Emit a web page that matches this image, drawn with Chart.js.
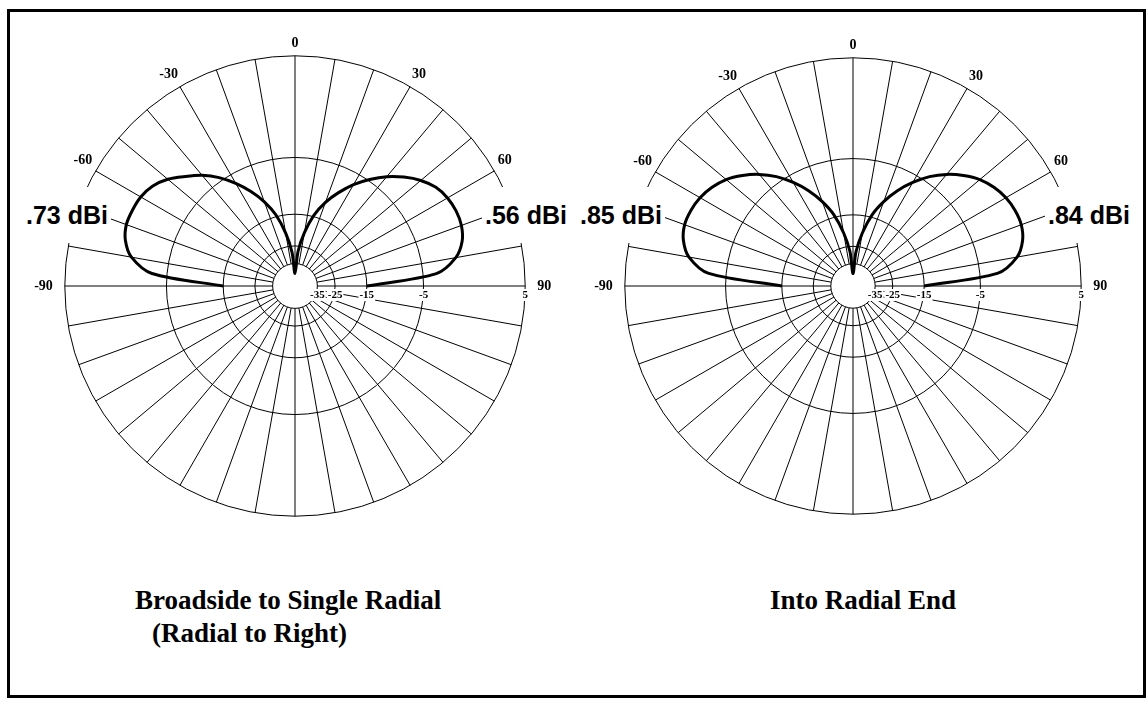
<!DOCTYPE html>
<html>
<head>
<meta charset="utf-8">
<script src="https://cdn.jsdelivr.net/npm/chart.js@4/dist/chart.umd.min.js"></script>
<style>
  body { margin: 0; background: #fff; }
  #page { position: relative; width: 1147px; height: 704px; overflow: hidden; background: #fff; }
  #frame { position: absolute; left: 7px; top: 9px; width: 1139px; height: 689px; border: 3px solid #000; box-sizing: border-box; }
  canvas { position: absolute; }
  .gain { position: absolute; font: bold 25px "Liberation Sans", Arial, sans-serif; line-height: 28px; background: #fff; padding: 14px 3px; color: #000; z-index: 5; }
  .title { position: absolute; font: bold 27px "Liberation Serif", "Times New Roman", serif; color: #000; white-space: nowrap; line-height: 32px; }
</style>
</head>
<body>
<div id="page">
  <div id="frame"></div>
  <canvas id="broadside" width="580" height="502" style="left:5px; top:35px;"></canvas>
  <canvas id="radialEnd" width="580" height="498" style="left:563px; top:37px;"></canvas>

  <div class="gain" style="right:1036px; top:187px;">.73 dBi</div>
  <div class="gain" style="left:482px; top:187px;">.56 dBi</div>
  <div class="gain" style="right:482px; top:187px;">.85 dBi</div>
  <div class="gain" style="left:1045px; top:187px;">.84 dBi</div>

  <div class="title" style="left:135px; top:584px;">Broadside to Single Radial</div>
  <div class="title" style="left:152px; top:617px;">(Radial to Right)</div>
  <div class="title" style="left:770px; top:584px;">Into Radial End</div>
</div>

<script>
// elevation angle from zenith (deg), negative = left side
const elevAngles = [-90, -85, -80, -75, -70, -65, -60, -55, -50, -45, -40, -35, -30, -25, -20, -15, -10, -5,
                    0, 5, 10, 15, 20, 25, 30, 35, 40, 45, 50, 55, 60, 65, 70, 75, 80, 85, 90];

// gain in dBi
const broadsideDb = [-15, -3.1, -0.6, 0.35, 0.73, 0.72, 0.6, 0.2, -0.6, -1.8, -3.0, -4.5, -6.4, -8.6, -11.2, -14.6, -20, -28,
                     -45, -27.5, -19.8, -14.6, -11.3, -8.8, -6.6, -4.8, -3.2, -1.9, -0.8, 0.0, 0.4, 0.56, 0.5, 0.1, -0.9, -3.3, -15];
const radialEndDb = [-15, -2.8, -0.4, 0.5, 0.85, 0.82, 0.6, 0.15, -0.5, -1.5, -2.7, -4.2, -6.1, -8.3, -11.0, -14.4, -19.8, -27.5,
                     -45, -27.5, -19.8, -14.4, -11.0, -8.3, -6.1, -4.2, -2.7, -1.5, -0.5, 0.15, 0.6, 0.82, 0.84, 0.5, -0.4, -2.8, -15];

const ringDb = [-35, -25, -15, -5, 5];          // radial grid rings (dB)
const angleLabels = [-90, -60, -30, 0, 30, 60, 90];

// ARRL style log scale: 0.89 per 2 dB, outer ring = 5 dBi
const toR = db => Math.pow(0.89, (5 - db) / 2);

const slotAngles = Array.from({ length: 72 }, (_, i) => i * 5); // clockwise from zenith
const slotLabels = slotAngles.map(a => (a > 180 ? a - 360 : a));

function buildSeries(dbValues) {
    return slotLabels.map(a => {
        const k = elevAngles.indexOf(a);
        return k < 0 ? null : toR(dbValues[k]);
    });
}

const polarExtras = {
    id: 'polarExtras',
    beforeDatasetsDraw(chart) {
        const r = chart.scales.r;
        const ctx = chart.ctx;
        ctx.save();
        // centre hole at the -35 ring
        ctx.beginPath();
        ctx.arc(r.xCenter, r.yCenter, r.getDistanceFromCenterForValue(toR(ringDb[0])), 0, Math.PI * 2);
        ctx.fillStyle = '#fff';
        ctx.fill();
        ctx.lineWidth = 1;
        ctx.strokeStyle = '#000';
        ctx.stroke();
        // ring values along the 90 deg spoke
        ctx.font = 'bold 11px "Liberation Serif", serif';
        ctx.textAlign = 'center';
        ctx.textBaseline = 'middle';
        ringDb.forEach(db => {
            const x = r.xCenter + r.getDistanceFromCenterForValue(toR(db));
            const y = r.yCenter + 9;
            const label = String(db);
            const w = ctx.measureText(label).width;
            ctx.fillStyle = '#fff';
            ctx.fillRect(x - w / 2 - 1, y - 6, w + 2, 12);
            ctx.fillStyle = '#000';
            ctx.fillText(label, x, y);
        });
        ctx.restore();
    }
};

function makePolar(id, dbValues) {
    return new Chart(document.getElementById(id).getContext('2d'), {
        type: 'radar',
        data: {
            labels: slotLabels,
            datasets: [{
                data: buildSeries(dbValues),
                borderColor: '#000',
                borderWidth: 3,
                fill: false,
                pointRadius: 0,
                tension: 0.3,
                spanGaps: false
            }]
        },
        options: {
            responsive: false,
            animation: false,
            plugins: {
                legend: { display: false },
                tooltip: { enabled: false }
            },
            scales: {
                r: {
                    min: 0,
                    max: 1,
                    afterBuildTicks: scale => {
                        scale.ticks = ringDb.map(db => ({ value: toR(db) }));
                    },
                    ticks: { display: false },
                    grid: { circular: true, color: '#000', lineWidth: 1 },
                    angleLines: {
                        color: '#000',
                        lineWidth: ctx => (ctx.index % 2 ? 0 : 1)
                    },
                    pointLabels: {
                        display: true,
                        color: '#000',
                        font: { family: '"Liberation Serif", "Times New Roman", serif', size: 14, weight: 'bold' },
                        padding: ctx => (ctx.index === 18 || ctx.index === 54 ? 12 : 4),
                        callback: label => (angleLabels.includes(label) ? String(label) : '')
                    }
                }
            }
        },
        plugins: [polarExtras]
    });
}

makePolar('broadside', broadsideDb);
makePolar('radialEnd', radialEndDb);
</script>
</body>
</html>
